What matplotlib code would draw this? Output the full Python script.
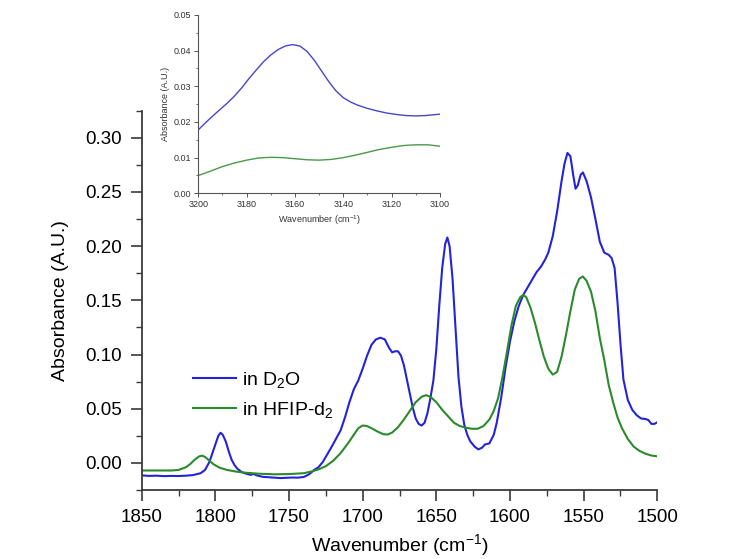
import matplotlib
matplotlib.use("Agg")
import matplotlib.pyplot as plt
from matplotlib.ticker import MultipleLocator

plt.rcParams['font.family'] = ['Liberation Sans', 'DejaVu Sans']
plt.rcParams['mathtext.default'] = 'regular'

# ---------------- main spectrum data ----------------
d2o_wn = [1850, 1845, 1840, 1835, 1830, 1825, 1820, 1815, 1810, 1807, 1804, 1802, 1800, 1798, 1796.5,
          1795, 1793, 1791, 1789, 1787, 1785, 1782, 1779, 1776, 1774, 1772, 1768, 1764, 1760, 1756,
          1752, 1748, 1744, 1740, 1737, 1735, 1733, 1730, 1727, 1724, 1721, 1718, 1715, 1712, 1709,
          1706, 1703, 1700, 1697, 1694, 1691, 1688, 1685, 1682, 1680, 1678, 1676, 1674, 1672, 1670,
          1668, 1666, 1664, 1662, 1660, 1658, 1656, 1654, 1652, 1650, 1648, 1646, 1644, 1642.5, 1641,
          1639, 1637, 1635, 1633, 1631, 1629, 1627, 1624, 1621.5, 1619, 1617, 1614, 1611, 1609, 1606,
          1603, 1600, 1597, 1594, 1591, 1588, 1585, 1582, 1579, 1576, 1574, 1571, 1568, 1565, 1563,
          1561, 1559, 1557, 1555.5, 1554, 1552, 1550.5, 1548, 1545, 1542, 1539, 1536, 1533, 1531, 1529,
          1527, 1525, 1523, 1520, 1517, 1514, 1511, 1508, 1506, 1504, 1502, 1500]
d2o_abs = [-0.0115, -0.0120, -0.0118, -0.0122, -0.0120, -0.0121, -0.0118, -0.0112, -0.0095, -0.0065,
           0.0010, 0.0090, 0.0170, 0.0250, 0.0278, 0.0260, 0.0200, 0.0110, 0.0030, -0.0020, -0.0055,
           -0.0085, -0.0100, -0.0110, -0.0102, -0.0115, -0.0128, -0.0132, -0.0135, -0.0140, -0.0137,
           -0.0135, -0.0136, -0.0130, -0.0110, -0.0090, -0.0065, -0.0040, 0.0010, 0.0080, 0.0150,
           0.0225, 0.0300, 0.0420, 0.0560, 0.0680, 0.0760, 0.0870, 0.0990, 0.1090, 0.1140, 0.1155,
           0.1140, 0.1060, 0.1020, 0.1030, 0.1030, 0.0990, 0.0900, 0.0770, 0.0640, 0.0510, 0.0410,
           0.0360, 0.0345, 0.0370, 0.0460, 0.0600, 0.0760, 0.1050, 0.1450, 0.1800, 0.2020, 0.2080,
           0.2000, 0.1700, 0.1250, 0.0800, 0.0520, 0.0350, 0.0260, 0.0200, 0.0150, 0.0125, 0.0140,
           0.0170, 0.0180, 0.0260, 0.0370, 0.0600, 0.0880, 0.1120, 0.1310, 0.1450, 0.1550, 0.1620,
           0.1690, 0.1760, 0.1810, 0.1880, 0.1940, 0.2090, 0.2320, 0.2600, 0.2760, 0.2860, 0.2830,
           0.2650, 0.2530, 0.2560, 0.2660, 0.2680, 0.2600, 0.2450, 0.2250, 0.2040, 0.1940, 0.1920,
           0.1890, 0.1800, 0.1480, 0.1100, 0.0770, 0.0580, 0.0490, 0.0440, 0.0410, 0.0405, 0.0395,
           0.0360, 0.0360, 0.0375]

hfip_wn = [1850, 1840, 1830, 1825, 1820, 1817, 1814, 1811, 1809, 1807, 1804, 1801, 1797, 1792, 1786,
           1780, 1770, 1760, 1750, 1740, 1735, 1730, 1725, 1720, 1715, 1710, 1706, 1703, 1700, 1697,
           1694, 1690, 1686, 1683, 1680, 1676, 1672, 1668, 1664, 1660, 1657, 1654, 1650, 1646, 1642,
           1638, 1634, 1630, 1626, 1622, 1618, 1614, 1611, 1608, 1605, 1602, 1599, 1596, 1593, 1591,
           1589, 1586, 1583, 1580, 1577, 1574, 1571, 1568, 1565, 1562, 1559, 1556, 1553, 1550.5, 1548,
           1545, 1542, 1539, 1536, 1533, 1530, 1527, 1524, 1520, 1516, 1512, 1508, 1504, 1500]
hfip_abs = [-0.0070, -0.0070, -0.0070, -0.0065, -0.0040, -0.0010, 0.0030, 0.0060, 0.0067, 0.0055,
            0.0020, -0.0015, -0.0045, -0.0065, -0.0080, -0.0090, -0.0100, -0.0105, -0.0103, -0.0095,
            -0.0080, -0.0060, -0.0030, 0.0020, 0.0090, 0.0180, 0.0260, 0.0320, 0.0345, 0.0340, 0.0320,
            0.0290, 0.0265, 0.0262, 0.0280, 0.0330, 0.0400, 0.0480, 0.0560, 0.0610, 0.0625, 0.0610,
            0.0560, 0.0490, 0.0430, 0.0370, 0.0340, 0.0325, 0.0315, 0.0315, 0.0340, 0.0400, 0.0480,
            0.0600, 0.0800, 0.1030, 0.1270, 0.1450, 0.1530, 0.1550, 0.1530, 0.1430, 0.1290, 0.1130,
            0.0980, 0.0870, 0.0815, 0.0840, 0.0980, 0.1180, 0.1400, 0.1600, 0.1700, 0.1720, 0.1680,
            0.1580, 0.1400, 0.1150, 0.0950, 0.0720, 0.0560, 0.0420, 0.0320, 0.0220, 0.0150, 0.0110,
            0.0085, 0.0068, 0.0061]

# ---------------- inset data ----------------
inset_d2o_wn = [3200, 3197, 3194, 3191, 3188, 3185, 3182, 3179, 3176, 3173, 3170, 3167, 3164, 3161,
                3158, 3155, 3152, 3149, 3146, 3143, 3140, 3137, 3134, 3130, 3126, 3122, 3118, 3114,
                3110, 3106, 3103, 3100]
inset_d2o_abs = [0.0178, 0.0198, 0.0217, 0.0235, 0.0253, 0.0273, 0.0296, 0.0322, 0.0346, 0.0369,
                 0.0388, 0.0403, 0.0413, 0.0417, 0.0413, 0.0398, 0.0373, 0.0343, 0.0313, 0.0287,
                 0.0268, 0.0256, 0.0247, 0.0238, 0.0231, 0.0225, 0.0221, 0.0218, 0.0217, 0.0218,
                 0.0220, 0.0222]
inset_hfip_wn = [3200, 3195, 3190, 3185, 3180, 3175, 3170, 3165, 3160, 3155, 3150, 3145, 3140, 3135,
                 3130, 3125, 3120, 3115, 3110, 3105, 3100]
inset_hfip_abs = [0.0050, 0.0062, 0.0075, 0.0085, 0.0093, 0.0099, 0.0101, 0.0100, 0.0097, 0.0094,
                  0.0093, 0.0095, 0.0100, 0.0107, 0.0115, 0.0123, 0.0129, 0.0134, 0.0136, 0.0136,
                  0.0132]

labels = ["in D$_2$O", "in HFIP-d$_2$"]
blue = '#2323dc'
green = '#2b8a2b'
spine_col = '#3a3a3a'

fig = plt.figure(figsize=(7.44, 5.59), dpi=100)
ax = fig.add_axes([141.7/744, 1-490/559, (657.3-141.7)/744, (490-110.7)/559])

ax.plot(d2o_wn, d2o_abs, color=blue, lw=1.5, label=labels[0])
ax.plot(hfip_wn, hfip_abs, color=green, lw=1.5, label=labels[1])

ax.set_xlim(1850, 1500)
ax.set_ylim(-0.025, 0.325)
ax.xaxis.set_major_locator(MultipleLocator(50))
ax.xaxis.set_minor_locator(MultipleLocator(25))
ax.yaxis.set_major_locator(MultipleLocator(0.05))
ax.yaxis.set_minor_locator(MultipleLocator(0.025))
ax.yaxis.set_major_formatter(plt.FuncFormatter(lambda v, p: f"{v:.2f}"))
for s in ['top', 'right']:
    ax.spines[s].set_visible(False)
for s in ['left', 'bottom']:
    ax.spines[s].set_color(spine_col)
    ax.spines[s].set_linewidth(1.3)
ax.tick_params(which='major', direction='out', length=8, width=1.2, color=spine_col,
               labelsize=13.5, pad=6)
ax.tick_params(which='minor', direction='out', length=4, width=1.0, color=spine_col)
ax.set_xlabel("Wavenumber (cm$^{-1}$)", fontsize=14, labelpad=4)
ax.set_ylabel("Absorbance (A.U.)", fontsize=14, labelpad=12)

leg = ax.legend(loc='center left', bbox_to_anchor=(193/744, 1-395/559),
                bbox_transform=fig.transFigure, frameon=False, fontsize=14,
                handlelength=2.2, handletextpad=0.3, labelspacing=0.5,
                borderpad=0, borderaxespad=0)

# ---------------- inset ----------------
ia = fig.add_axes([198.3/744, 1-193.3/559, (440-198.3)/744, (193.3-15)/559])
ia.plot(inset_d2o_wn, inset_d2o_abs, color='#4646d2', lw=1.0)
ia.plot(inset_hfip_wn, inset_hfip_abs, color='#4a9a4a', lw=1.0)
ia.set_xlim(3200, 3100)
ia.set_ylim(0, 0.05)
ia.xaxis.set_major_locator(MultipleLocator(20))
ia.xaxis.set_minor_locator(MultipleLocator(10))
ia.yaxis.set_major_locator(MultipleLocator(0.01))
ia.yaxis.set_minor_locator(MultipleLocator(0.005))
ia.yaxis.set_major_formatter(plt.FuncFormatter(lambda v, p: f"{v:.2f}"))
for s in ['top', 'right']:
    ia.spines[s].set_visible(False)
for s in ['left', 'bottom']:
    ia.spines[s].set_color('#555555')
    ia.spines[s].set_linewidth(0.8)
ia.tick_params(which='major', direction='out', length=3, width=0.7, color='#555555',
               labelsize=6.5, pad=2, labelcolor='#333333')
ia.tick_params(which='minor', direction='out', length=1.5, width=0.6, color='#555555')
ia.set_xlabel("Wavenumber (cm$^{-1}$)", fontsize=6.5, labelpad=3, color='#333333')
ia.set_ylabel("Absorbance (A.U.)", fontsize=6.5, labelpad=3, color='#333333')

fig.savefig("out.png", dpi=100)
